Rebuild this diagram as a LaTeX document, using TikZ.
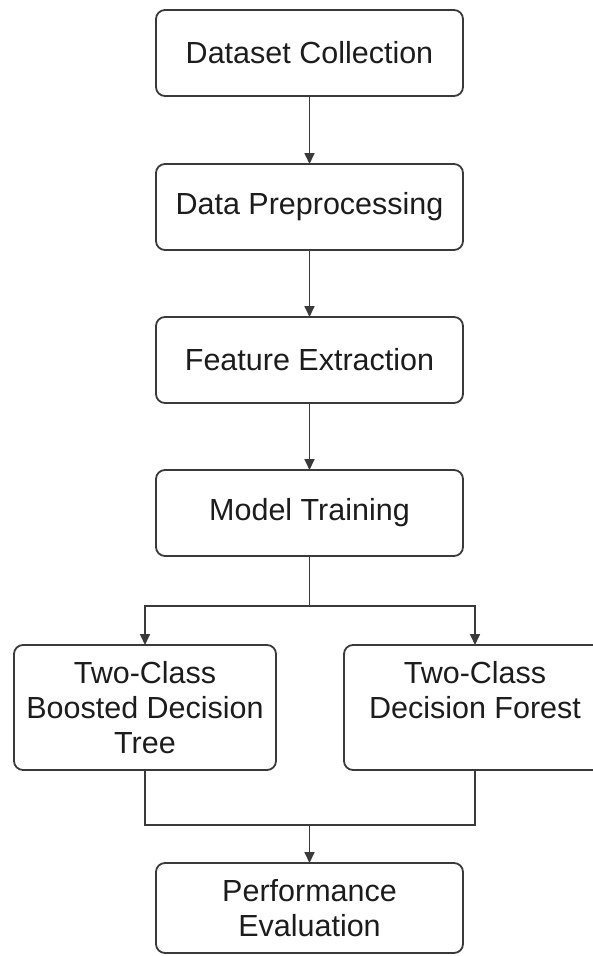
\documentclass[tikz,border=0pt]{standalone}
\usepackage{fontspec}
\setmainfont{Liberation Sans}
\usepackage{tikz}
\usetikzlibrary{arrows.meta, positioning}
\definecolor{linegray}{HTML}{3A3A3A}
\definecolor{textdark}{HTML}{1C1C1C}

\begin{document}
\begin{tikzpicture}[
  node distance=68pt,
  every node/.style={font=\fontsize{30.5}{35}\selectfont, text=textdark},
  box/.style={draw=linegray, rounded corners=9pt, line width=1.8pt, minimum height=86pt,
              minimum width=307pt, align=center, inner sep=0pt, outer sep=0pt},
  tallbox/.style={box, minimum height=125pt, minimum width=262pt},
  arrow/.style={-{Triangle[length=11pt, width=10pt]}, line width=1.7pt, color=linegray},
  link/.style={line width=1.7pt, color=linegray},
]
\useasboundingbox (0,0) rectangle (593pt,-956pt);

% Main column
\node[box, anchor=north west] (dataset) at (156pt,-10pt) {Dataset Collection};
\node[box, below=of dataset]      (prep)    {Data Preprocessing};
\node[box, below=67pt of prep]    (feature) {Feature Extraction};
\node[box, below=67pt of feature] (model)   {Model Training};

% Two classifiers
\node[tallbox, below=89pt of model, xshift=-164.5pt] (boosted) {Two-Class\\Boosted Decision\\Tree};
\node[tallbox, right=68pt of boosted]                (forest)  {Two-Class\\Decision Forest\\};

% Split and merge points
\coordinate[below=50pt of model] (split);
\path (model |- boosted.south) coordinate (join);
\coordinate[below=55pt of join] (merge);

% Result
\node[box, below=38pt of merge, minimum height=90pt] (perf) {Performance\\Evaluation};

% Arrows — main column
\draw[arrow] (dataset) -- (prep);
\draw[arrow] (prep)    -- (feature);
\draw[arrow] (feature) -- (model);

% Arrows — branch out
\draw[arrow] (model) -- (split) -| (boosted);
\draw[arrow] (split) -| (forest);

% Arrows — branch in
\draw[link]  (boosted) |- (merge) -| (forest);
\draw[arrow] (merge) -- (perf);

\end{tikzpicture}
\end{document}
